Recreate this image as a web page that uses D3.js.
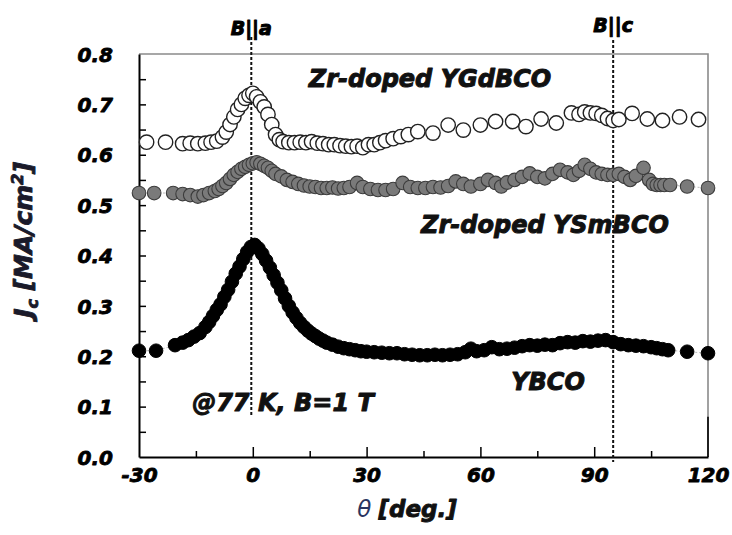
<!DOCTYPE html>
<html><head><meta charset="utf-8">
<script src="https://cdn.jsdelivr.net/npm/d3@7"></script>
<style>body{margin:0;background:#fff}svg{display:block}text{font-family:"DejaVu Sans",Verdana,sans-serif}</style>
</head><body><svg id="c" width="732" height="535"></svg>
<script>
const xTicks = [-30, 0, 30, 60, 90, 120];
const yTicks = [0, 0.1, 0.2, 0.3, 0.4, 0.5, 0.6, 0.7, 0.8];
const refLines = [{name: "B||a", theta: 0}, {name: "B||c", theta: 95}];

const ygdTheta = [-28,-23,-18.5,-16.5,-14.5,-12.5,-11,-9.5,-8,-7,-6,-5,-4,-3,-2,-1,0,1,2,3,4,5,6,7,8,9.5,11,12.5,14,15.5,17,18.5,20,21.5,23,24.5,26,27.5,29,30.5,32,33.5,35,37,39,41,43.5,47.5,51.5,55.5,60,64,68.5,72,76,80,84,86,87.5,89,90.5,92,93.5,95,96.5,100,104,108,112.5,117.5];
const ygdJc = [0.625,0.625,0.622,0.623,0.622,0.623,0.625,0.627,0.635,0.645,0.66,0.675,0.69,0.70,0.712,0.718,0.722,0.715,0.705,0.695,0.68,0.66,0.64,0.63,0.626,0.624,0.624,0.625,0.624,0.626,0.623,0.622,0.62,0.62,0.618,0.617,0.616,0.617,0.614,0.62,0.62,0.624,0.628,0.632,0.636,0.64,0.646,0.643,0.659,0.649,0.659,0.666,0.666,0.656,0.671,0.663,0.683,0.68,0.685,0.683,0.682,0.678,0.672,0.668,0.67,0.682,0.671,0.668,0.675,0.67];

const ysmTheta = [-30,-26,-21,-18.5,-16.5,-14.5,-13,-11.5,-10,-9,-8,-7,-6,-5,-4,-3,-2,-1,0,1,2,3,4,5,6,7.5,9,10.5,12,13.5,15,16.5,18,19.5,21,22.5,24,25.5,27.5,29,31,33,35,37,39.5,41.5,43.5,45.5,47.5,49.5,51.5,53.5,55.5,57.5,60,62,64,65.5,67,69,71,73,75,77,79,81,83,84.5,86,87.5,89,90.5,92,93.5,95,96.5,98,99.5,101,103,104.5,105.5,106.5,107.5,108.5,110,114.5,120];
const ysmJc = [0.524,0.524,0.524,0.522,0.52,0.517,0.52,0.524,0.528,0.532,0.538,0.544,0.552,0.56,0.566,0.572,0.576,0.58,0.583,0.585,0.582,0.578,0.574,0.568,0.562,0.557,0.55,0.546,0.542,0.539,0.537,0.536,0.534,0.534,0.535,0.533,0.534,0.536,0.544,0.536,0.532,0.53,0.53,0.532,0.544,0.536,0.534,0.534,0.536,0.535,0.538,0.547,0.542,0.537,0.542,0.55,0.544,0.537,0.545,0.55,0.556,0.563,0.556,0.553,0.562,0.57,0.565,0.56,0.568,0.58,0.572,0.565,0.562,0.56,0.56,0.562,0.556,0.55,0.558,0.574,0.55,0.542,0.54,0.54,0.54,0.54,0.537,0.534];

const ybcoTheta = [-30,-25.5,-20.5,-18.5,-17,-15.5,-14,-12.5,-11.5,-10.5,-9.5,-8.5,-7.5,-6.5,-5.5,-4.5,-3.5,-2.5,-1.5,-0.5,0.5,1.5,2.5,3.5,4.5,5.5,6.5,7.5,8.5,9.5,10.5,11.5,12.5,13.5,14.5,15.5,16.5,17.5,18.5,19.5,21,22.5,24,25.5,27,28.5,30,32,34,36,38,40,42,44,46,48,50,52,54,56,57.5,59,61,63,65,67,69,71,73,75,77,79,81,83,85,87,89,91,93,95,97,99,101,103,105,106.5,108,109.5,114.5,120];
const ybcoJc = [0.211,0.211,0.222,0.227,0.232,0.239,0.246,0.258,0.268,0.28,0.292,0.303,0.318,0.332,0.348,0.364,0.378,0.393,0.407,0.417,0.421,0.414,0.403,0.39,0.376,0.361,0.346,0.331,0.315,0.3,0.287,0.276,0.266,0.258,0.251,0.245,0.24,0.235,0.231,0.227,0.223,0.219,0.216,0.214,0.212,0.21,0.209,0.208,0.207,0.206,0.206,0.204,0.203,0.202,0.202,0.203,0.202,0.203,0.204,0.208,0.215,0.21,0.212,0.218,0.214,0.215,0.217,0.22,0.222,0.221,0.223,0.222,0.226,0.228,0.227,0.23,0.229,0.231,0.232,0.228,0.224,0.222,0.221,0.22,0.218,0.216,0.214,0.212,0.209,0.206];

const seriesNames = ["Zr-doped YGdBCO", "Zr-doped YSmBCO", "YBCO"];

const svg = d3.select("#c");
const L = 139, R = 708, T = 54, B = 457;
const x = d3.scaleLinear().domain([-30, 120]).range([L, R]);
const y = d3.scaleLinear().domain([0, 0.8]).range([B, T]);

const heavy = (sel, w, col) => sel.attr("stroke", col || "#000").attr("stroke-width", w).attr("stroke-linejoin","round").attr("paint-order","stroke");

svg.append("path").attr("d", `M${L},${T}H${R}V${B}`).attr("fill","none").attr("stroke","#8a8a8a").attr("stroke-width",1.6);

const xAxis = d3.axisBottom(x).tickValues(d3.range(-30, 121, 15)).tickSize(0).tickFormat("");
const gx = svg.append("g").attr("transform",`translate(0,${B})`).call(xAxis);
gx.select(".domain").attr("stroke","#000").attr("stroke-width",2);
gx.selectAll(".tick line").attr("y2", d => (d % 30 === 0 ? -10 : -6)).attr("stroke","#000").attr("stroke-width",1.5);
heavy(gx.selectAll(".tick").append("text").attr("y", 25).attr("text-anchor","middle")
  .attr("fill","#000").style("font-size","20px").style("font-weight","bold").style("font-style","italic")
  .text(d => xTicks.includes(d) ? d : ""), 0.8);
gx.selectAll(".tick").filter(d => d === -30 || d === 120).select("line").remove();

const yAxis = d3.axisLeft(y).tickValues(d3.range(0, 0.801, 0.05)).tickSize(0).tickFormat("");
const gy = svg.append("g").attr("transform",`translate(${L},0)`).call(yAxis);
gy.select(".domain").attr("stroke","#000").attr("stroke-width",2);
gy.selectAll(".tick line").attr("x2", 7).attr("stroke","#000").attr("stroke-width",1.5);
heavy(gy.selectAll(".tick").append("text").attr("x", -26).attr("dy","0.36em").attr("text-anchor","end")
  .attr("fill","#000").style("font-size","20px").style("font-weight","bold").style("font-style","italic")
  .text(d => { const v = Math.round(d*100)/100; return yTicks.some(t => Math.abs(t - v) < 1e-6) ? v.toFixed(1) : ""; }), 0.8);
gy.selectAll(".tick").filter(d => d < 0.01 || d > 0.79).select("line").remove();
svg.append("line").attr("x1",R).attr("x2",R).attr("y1",y(0.08)).attr("y2",B).attr("stroke","#000").attr("stroke-width",1.6);

svg.append("line").attr("x1",x(refLines[0].theta)-1.5).attr("x2",x(refLines[0].theta)-1.5).attr("y1",37).attr("y2",y(0.083))
  .attr("stroke","#111").attr("stroke-width",2).attr("stroke-dasharray","3,2");
svg.append("line").attr("x1",x(refLines[1].theta)).attr("x2",x(refLines[1].theta)).attr("y1",40).attr("y2",B+5)
  .attr("stroke","#111").attr("stroke-width",2).attr("stroke-dasharray","3,2");
heavy(svg.append("text").attr("x", x(refLines[0].theta)-1.5).attr("y", 35).attr("text-anchor","middle")
  .style("font-size","19px").style("font-weight","bold").style("font-style","italic").text(refLines[0].name), 1);
heavy(svg.append("text").attr("x", x(refLines[1].theta)).attr("y", 32).attr("text-anchor","middle")
  .style("font-size","19px").style("font-weight","bold").style("font-style","italic").text(refLines[1].name), 1);

const series = [
  {th: ygdTheta, v: ygdJc, fill: "#fff", stroke: "#222", sw: 1.4, r: 7.2, link: false},
  {th: ysmTheta, v: ysmJc, fill: "#7a7a7a", stroke: "#3c3c3c", sw: 1.1, r: 6.8, link: true},
  {th: ybcoTheta, v: ybcoJc, fill: "#000", stroke: "#000", sw: 1, r: 6.8, link: true}
];
const line = d3.line().x(d => x(d[0])).y(d => y(d[1]));
series.forEach(s => {
  const pts = s.th.map((t, i) => [t, s.v[i]]);
  if (s.link) svg.append("path").datum(pts).attr("d", line).attr("fill","none").attr("stroke","#aaa").attr("stroke-width",0.8).attr("stroke-dasharray","2,2");
  svg.append("g").selectAll("circle").data(pts).join("circle")
    .attr("cx", d => x(d[0])).attr("cy", d => y(d[1])).attr("r", s.r)
    .attr("fill", s.fill).attr("stroke", s.stroke).attr("stroke-width", s.sw);
});

const ann = (txt, cx, by) => heavy(svg.append("text").attr("x", cx).attr("y", by).attr("text-anchor","middle")
  .style("font-size","24px").style("font-weight","bold").style("font-style","italic").attr("fill","#111").text(txt), 1, "#111");
ann(seriesNames[0], 430, 87);
ann(seriesNames[1], 545, 233);
ann(seriesNames[2], 548, 390);
ann("@77 K, B=1 T", 283, 411);

const yt = heavy(svg.append("text").attr("transform","translate(32,240) rotate(-90)").attr("text-anchor","middle")
  .style("font-size","25px").style("font-weight","bold").style("font-style","italic").attr("fill","#1a1a2a"), 0.9, "#1a1a2a");
yt.append("tspan").text("J");
yt.append("tspan").attr("dy", 6).style("font-size","16px").text("c");
yt.append("tspan").attr("dy", -6).text(" [MA/cm");
yt.append("tspan").attr("dy", -9).style("font-size","16px").text("2");
yt.append("tspan").attr("dy", 9).text("]");

const xt = svg.append("text").attr("x", 407).attr("y", 517).attr("text-anchor","middle")
  .style("font-size","23px").style("font-style","italic").attr("fill","#111");
xt.append("tspan").attr("fill","#2a3560").style("font-weight","normal").text("θ ");
heavy(xt.append("tspan").style("font-weight","bold").text("[deg.]"), 0.9, "#111");
</script></body></html>
